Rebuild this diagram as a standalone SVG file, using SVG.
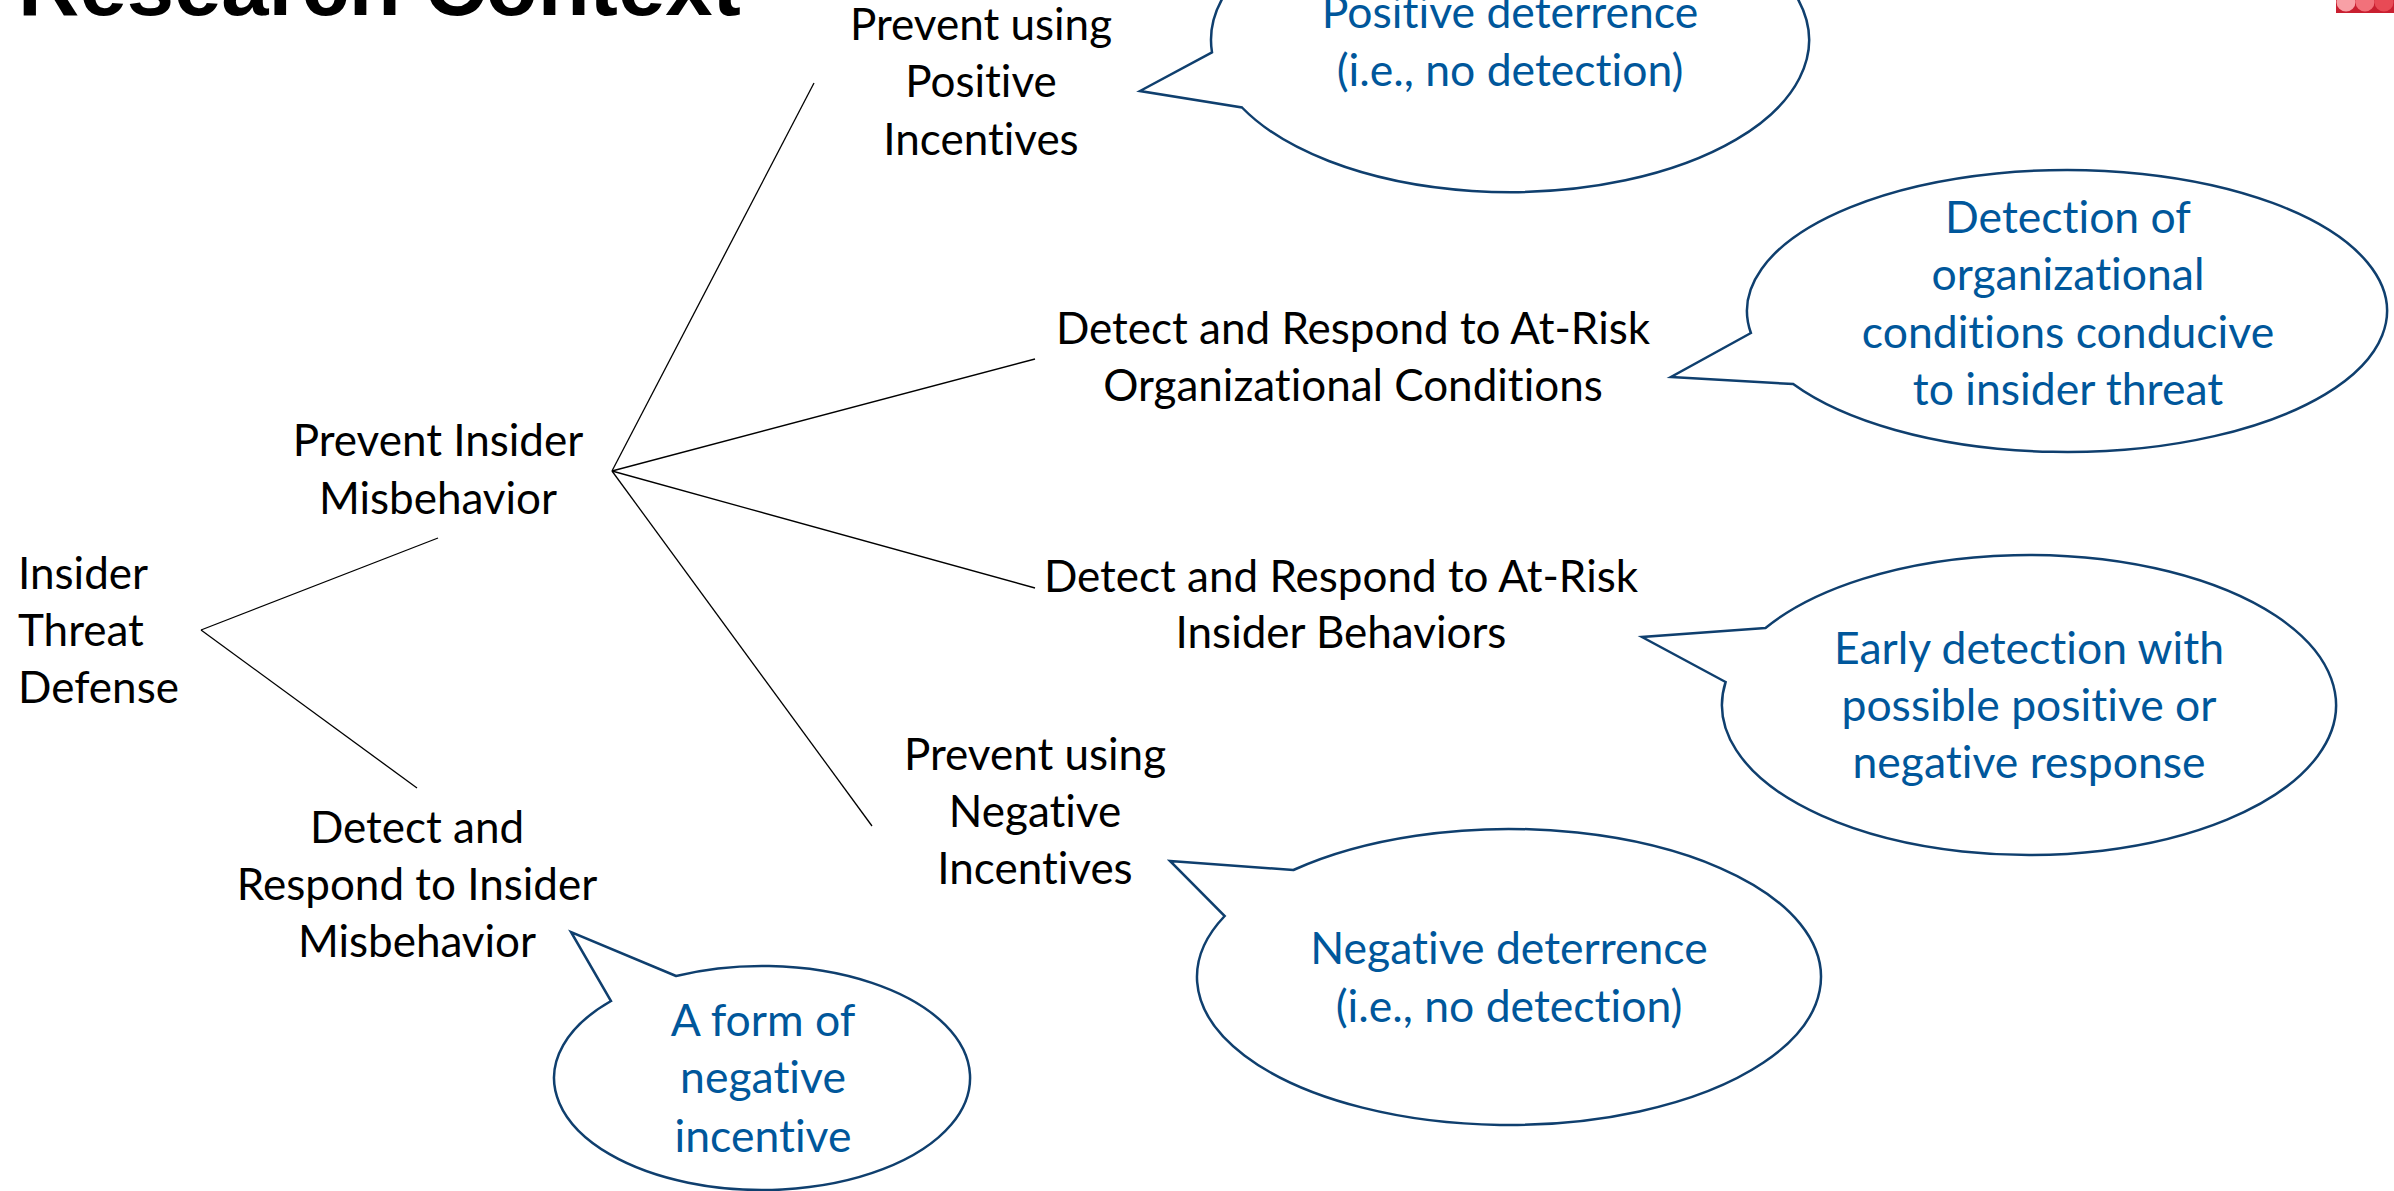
<svg xmlns="http://www.w3.org/2000/svg" width="2394" height="1191" viewBox="0 0 2394 1191">
<style>
.title{font-family:"Liberation Sans",Arial,sans-serif;font-weight:bold;font-size:85px;fill:#000}
.node{font-family:Lato,"Open Sans",sans-serif;font-size:44px;fill:#000;text-anchor:middle;font-variant-ligatures:none;font-feature-settings:"liga" 0}
.left{text-anchor:start}
.note{font-family:Lato,"Open Sans",sans-serif;font-size:44.5px;fill:#00579b;text-anchor:middle;font-variant-ligatures:none;font-feature-settings:"liga" 0}
.bubble{fill:#fff;stroke:#0f3f6e;stroke-width:2.5;stroke-linejoin:miter}
.conn line{stroke:#000;stroke-width:1.3}
</style>
<rect width="2394" height="1191" fill="#fff"/>
<g id="logo">
<rect x="2336" y="0" width="58" height="13" fill="#c91f30"/>
<circle cx="2346" cy="2" r="9.5" fill="#f8a0a6"/>
<circle cx="2365" cy="2" r="9.5" fill="#f2717a"/>
<circle cx="2384" cy="2" r="9.5" fill="#e84a55"/>
</g>
<text id="title" class="title" x="18" y="15">Research Context</text>
<g id="connectors" class="conn">
<line x1="201" y1="630" x2="438" y2="538"/>
<line x1="201" y1="630" x2="417" y2="788"/>
<line x1="612" y1="471" x2="814" y2="83"/>
<line x1="612" y1="471" x2="1035" y2="359"/>
<line x1="612" y1="471" x2="1035" y2="588"/>
<line x1="612" y1="471" x2="872" y2="826"/>
</g>
<g id="n-defense"><text class="node left" x="18" y="589">Insider</text><text class="node left" x="18" y="646">Threat</text><text class="node left" x="18" y="703">Defense</text></g>
<g id="n-prevent"><text class="node" x="438" y="456">Prevent Insider</text><text class="node" x="438" y="514">Misbehavior</text></g>
<g id="n-detect"><text class="node" x="417" y="843">Detect and</text><text class="node" x="417" y="900">Respond to Insider</text><text class="node" x="417" y="957">Misbehavior</text></g>
<g id="n-positive"><text class="node" x="981" y="40">Prevent using</text><text class="node" x="981" y="97">Positive</text><text class="node" x="981" y="155">Incentives</text></g>
<g id="n-org"><text class="node" x="1353" y="344">Detect and Respond to At-Risk</text><text class="node" x="1353" y="401">Organizational Conditions</text></g>
<g id="n-behav"><text class="node" x="1341" y="592">Detect and Respond to At-Risk</text><text class="node" x="1341" y="648">Insider Behaviors</text></g>
<g id="n-negative"><text class="node" x="1035" y="770">Prevent using</text><text class="node" x="1035" y="827">Negative</text><text class="node" x="1035" y="884">Incentives</text></g>
<g id="c-positive">
<path class="bubble" d="M1212,52.4 L1140,91 L1242,107.5 A299,152 0 1 0 1212,52.4 Z"/>
<text class="note" x="1510" y="28">Positive deterrence</text><text class="note" x="1510" y="86">(i.e., no detection)</text>
</g>
<g id="c-org">
<path class="bubble" d="M1750.9,333 L1671,377 L1793.2,384 A320,141 0 1 0 1750.9,333 Z"/>
<text class="note" x="2068" y="233">Detection of</text><text class="note" x="2068" y="290">organizational</text><text class="note" x="2068" y="348">conditions conducive</text><text class="note" x="2068" y="405">to insider threat</text>
</g>
<g id="c-behav">
<path class="bubble" d="M1765.5,628 L1642,637 L1725.6,682 A307,150 0 1 0 1765.5,628 Z"/>
<text class="note" x="2029" y="664">Early detection with</text><text class="note" x="2029" y="721">possible positive or</text><text class="note" x="2029" y="778">negative response</text>
</g>
<g id="c-negative">
<path class="bubble" d="M1293.4,870 L1170,861 L1224.7,916 A312,148 0 1 0 1293.4,870 Z"/>
<text class="note" x="1509" y="964">Negative deterrence</text><text class="note" x="1509" y="1022">(i.e., no detection)</text>
</g>
<g id="c-form">
<path class="bubble" d="M676.1,976 L571,932 L611,1001 A208,112 0 1 0 676.1,976 Z"/>
<text class="note" x="763" y="1036">A form of</text><text class="note" x="763" y="1093">negative</text><text class="note" x="763" y="1152">incentive</text>
</g>
</svg>
